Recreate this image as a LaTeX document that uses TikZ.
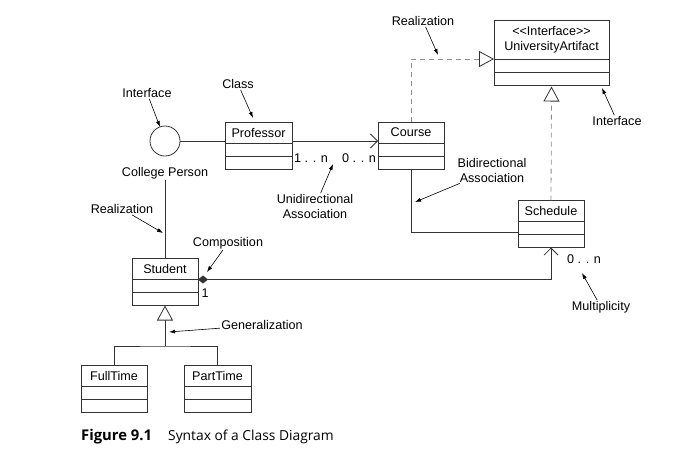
\documentclass[tikz,border=0pt]{standalone}
\usepackage{fontspec}
\setmainfont{Liberation Sans}
\newfontfamily\capfont{Open Sans}
\usetikzlibrary{positioning,arrows.meta}

\tikzset{
  classhead/.style={draw=black!80, line width=0.8pt, minimum width=#1, minimum height=21pt,
    inner sep=0pt, outer sep=0pt, font=\fontsize{12.6}{15}\selectfont},
  classhead/.default=66pt,
  classpart/.style={draw=black!80, line width=0.8pt, minimum width=#1, minimum height=13pt,
    inner sep=0pt, outer sep=0pt},
  classpart/.default=66pt,
  note/.style={font=\fontsize{12.6}{15}\selectfont, align=center, inner sep=1pt},
  pointer/.style={-{Latex[length=6pt,width=4pt]}, line width=0.6pt},
  link/.style={line width=0.8pt, draw=black!80},
  realize/.style={line width=0.8pt, draw=black!45, dash pattern=on 5pt off 4pt},
  hollow/.style={-{Triangle[open,fill=white,color=black!80,length=15pt,width=16pt]}},
  openhead/.style={-{Straight Barb[length=7pt,width=14pt]}}
}

\begin{document}
\begin{tikzpicture}[x=1pt,y=-1pt]
\useasboundingbox (0,0) rectangle (676,461);

% classes
\node[classhead=115pt, minimum height=39pt, align=center] (ua) at (551.5,39.5) {<{}<Interface>{}>\\UniversityArtifact};
\node[classpart=115pt, below=0pt of ua] (ua-a) {};
\node[classpart=115pt, below=0pt of ua-a] (ua-b) {};

\node[classhead=67pt] (prof) at (258.5,133) {Professor};
\node[classpart=67pt, below=0pt of prof] (prof-a) {};
\node[classpart=67pt, below=0pt of prof-a] (prof-b) {};

\node[classhead] (course) at (411,132.5) {Course};
\node[classpart, below=0pt of course] (course-a) {};
\node[classpart, below=0pt of course-a] (course-b) {};

\node[classhead] (sched) at (551,211) {Schedule};
\node[classpart, below=0pt of sched] (sched-a) {};
\node[classpart, below=0pt of sched-a] (sched-b) {};

\node[classhead] (student) at (165,269) {Student};
\node[classpart, below=0pt of student] (student-a) {};
\node[classpart, below=0pt of student-a] (student-b) {};

\node[classhead] (ft) at (114,376) {FullTime};
\node[classpart, below=0pt of ft] (ft-a) {};
\node[classpart, below=0pt of ft-a] (ft-b) {};

\node[classhead=67pt] (pt) at (217.5,376) {PartTime};
\node[classpart=67pt, below=0pt of pt] (pt-a) {};
\node[classpart=67pt, below=0pt of pt-a] (pt-b) {};

% interface lollipop
\node[link, draw, circle, minimum size=30pt, inner sep=0pt] (iface) at (165,141) {};
\node[note] (cperson) at (165,173) {College Person};

% relations
\draw[link] (iface) -- (iface -| prof.west);
\draw[link, openhead] (prof.east |- iface) -- (course.west |- iface);
\draw[realize, hollow] (course.north) |- (ua.south west);
\draw[realize, hollow, shorten >=1.5pt] (sched.north) -- (ua-b.south);
\draw[link] (course-b.south) |- ([yshift=2.5pt]sched-a.south west);
\draw[link, {Diamond[length=10pt,width=8pt]}-{Straight Barb[length=7pt,width=14pt]}] (student-a.north east) -| (sched-b.south);
\draw[link] (cperson) -- (student.north);
\coordinate (gen) at (165,346);
\draw[link, hollow] (gen) -- (student-b.south);
\draw[link] (ft.north) |- (gen) -| (pt.north);

% multiplicities
\node[note] (m-prof) at (311,158) {1 . . n};
\node[note] (m-course) at (359,158) {0 . . n};
\node[note] (m-sched) at (584,259) {0 . . n};
\node[note] (m-student) at (205,293) {1};

% annotations
\node[note] (l-realtop) at (423,21) {Realization};
\coordinate (t-realtop) at (438,55);
\draw[pointer] (l-realtop) -- (t-realtop);
\node[note] (l-ifright) at (617,121) {Interface};
\coordinate (t-ifright) at (602,88);
\draw[pointer] (l-ifright) -- (t-ifright);
\node[note] (l-class) at (238,84) {Class};
\coordinate (t-class) at (253,118);
\draw[pointer] (l-class) -- (t-class);
\node[note] (l-ifleft) at (147,93) {Interface};
\coordinate (t-ifleft) at (160,127);
\draw[pointer] (l-ifleft) -- (t-ifleft);
\node[note] (l-uni) at (315,206.5) {Unidirectional\\Association};
\coordinate (t-uni) at (333,164);
\draw[pointer] (l-uni) -- (t-uni);
\node[note] (l-bi) at (492,170) {Bidirectional\\Association};
\coordinate (t-bi) at (415,202);
\draw[pointer] (l-bi) -- (t-bi);
\node[note] (l-realleft) at (122,209) {Realization};
\coordinate (t-realleft) at (163,233);
\draw[pointer] (l-realleft) -- (t-realleft);
\node[note] (l-comp) at (228,243) {Composition};
\coordinate (t-comp) at (207,272);
\draw[pointer] (l-comp) -- (t-comp);
\node[note] (l-gen) at (262,325) {Generalization};
\coordinate (t-gen) at (169,332);
\draw[pointer] (l-gen) -- (t-gen);
\node[note] (l-mult) at (601,307) {Multiplicity};
\coordinate (t-mult) at (582,273);
\draw[pointer] (l-mult) -- (t-mult);

% caption
\node[anchor=west, inner sep=0pt, font=\capfont\bfseries\fontsize{14.8}{17}\selectfont] (figno) at (81,437) {Figure 9.1};
\node[anchor=west, inner sep=0pt, font=\capfont\fontsize{13.8}{16}\selectfont] (figtitle) at (168,437) {Syntax of a Class Diagram};
\end{tikzpicture}
\end{document}
